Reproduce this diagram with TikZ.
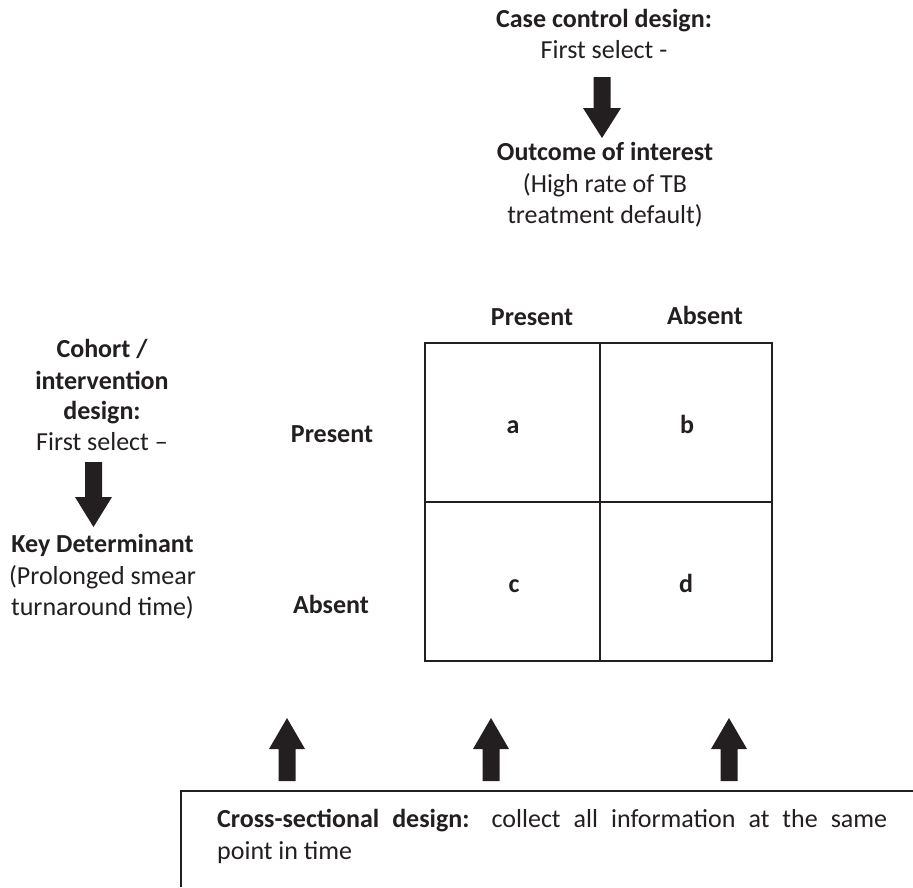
\documentclass[tikz,border=0pt]{standalone}
\usepackage{fontspec}
\setmainfont{Carlito}
\definecolor{ink}{RGB}{35,31,32}
\newcommand{\blkarrow}[6]{% cx, shaft half, head half, start y, head base y, tip y
  \fill[ink] (#1-#2,#4) -- (#1+#2,#4) -- (#1+#2,#5) -- (#1+#3,#5) -- (#1,#6) -- (#1-#3,#5) -- (#1-#2,#5) -- cycle;}
\begin{document}
\begin{tikzpicture}[x=1pt,y=-1pt,
  txt/.style={inner sep=0pt, anchor=base, text=ink, font=\fontsize{26}{30}\selectfont},
  btxt/.style={txt, font=\fontsize{26}{30}\selectfont\bfseries},
  gridline/.style={draw=ink, line width=1.6pt}]
\useasboundingbox (0,0) rectangle (913,887);
\fill[white] (0,0) rectangle (913,887);

% top block
\node[btxt] (cc1) at (604,27) {Case control design:};
\node[txt]  (cc2) at (604,58) {First select -};
\blkarrow{602}{8.5}{19}{77}{108}{138}
\node[btxt] (oc1) at (605,160) {Outcome of interest};
\node[txt]  (oc2) at (605,192) {(High rate of TB};
\node[txt]  (oc3) at (605,223) {treatment default)};

% left block
\node[btxt] (co1) at (102,357) {Cohort /};
\node[btxt] (co2) at (102,389) {intervention};
\node[btxt] (co3) at (102,419) {design:};
\node[txt]  (co4) at (102,450) {First select –};
\blkarrow{93.5}{8.5}{18.5}{462}{497}{527}
\node[btxt] (kd1) at (102.5,552) {Key Determinant};
\node[txt]  (kd2) at (102.5,584) {(Prolonged smear};
\node[txt]  (kd3) at (102.5,615) {turnaround time)};

% table
\node[btxt] (cp) at (532,325) {Present};
\node[btxt] (ca) at (705,324) {Absent};
\node[btxt] (rp) at (332,442) {Present};
\node[btxt] (ra) at (331,613) {Absent};
\draw[gridline] (425,343) rectangle (772,661);
\draw[gridline] (600,343) -- (600,661);
\draw[gridline] (425,502) -- (772,502);
\node[btxt] (ca1) at (513,433) {a};
\node[btxt] (cb1) at (687,433) {b};
\node[btxt] (cc) at (514,592) {c};
\node[btxt] (cd) at (686,592) {d};

% up arrows
\blkarrow{287}{8.5}{18}{781}{749}{718}
\blkarrow{491}{8.5}{18}{781}{749}{718}
\blkarrow{729}{8.5}{18}{781}{749}{718}

% cross-sectional box
\draw[gridline] (913,791) -- (181,791) -- (181,887);
\node[txt, anchor=base west] (cs1) at (217,827) {\makebox[670pt][s]{\textbf{Cross-sectional design:} collect all information at the same}};
\node[txt, anchor=base west] (cs2) at (217,859) {point in time};
\end{tikzpicture}
\end{document}
